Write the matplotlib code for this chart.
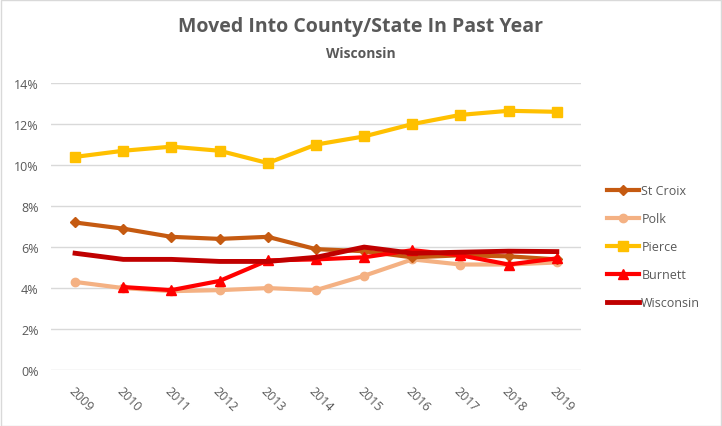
import numpy as np
import matplotlib
matplotlib.use("Agg")
from matplotlib import pyplot as plt
from matplotlib.ticker import PercentFormatter

years = ["2009", "2010", "2011", "2012", "2013", "2014", "2015", "2016", "2017", "2018", "2019"]

st_croix = [7.2, 6.9, 6.5, 6.4, 6.5, 5.9, 5.8, 5.5, 5.6, 5.55, 5.4]
polk = [4.3, 4.0, 3.85, 3.9, 4.0, 3.9, 4.6, 5.4, 5.15, 5.15, 5.25]
pierce = [10.4, 10.7, 10.9, 10.7, 10.1, 11.0, 11.4, 12.0, 12.45, 12.65, 12.6]
burnett = [np.nan, 4.05, 3.9, 4.35, 5.35, 5.4, 5.5, 5.85, 5.6, 5.15, 5.45]
wisconsin = [5.7, 5.4, 5.4, 5.3, 5.3, 5.5, 6.0, 5.7, 5.75, 5.8, 5.78]

grey = "#595959"
plt.rcParams['font.family'] = ['Open Sans', 'DejaVu Sans']

fig = plt.figure(figsize=(7.22, 4.27), dpi=100)
ax = fig.add_axes([0.0706, 0.131, 0.734, 0.672])

x = np.arange(len(years))
ax.plot(x, st_croix, c="#C55A11", lw=3, marker="D", ms=5, label="St Croix", zorder=3)
ax.plot(x, polk, c="#F4B183", lw=3, marker="o", ms=6, label="Polk", zorder=2)
ax.plot(x, pierce, c="#FFC000", lw=3, marker="s", ms=7, label="Pierce", zorder=3)
ax.plot(x, burnett, c="#FF0000", lw=3, marker="^", ms=7, label="Burnett", zorder=4)
ax.plot(x, wisconsin, c="#C00000", lw=3.5, label="Wisconsin", zorder=4)

ax.set_xlim(-0.5, len(years) - 0.5)
ax.set_ylim(0, 14)
ax.set_yticks(range(0, 15, 2))
ax.yaxis.set_major_formatter(PercentFormatter(decimals=0))
ax.set_xticks(x)
ax.set_xticklabels(years, rotation=-45, ha="left", rotation_mode="anchor")
ax.tick_params(axis="both", length=0, labelsize=9, labelcolor=grey)
ax.tick_params(axis="x", pad=10)
ax.tick_params(axis="y", pad=9)
ax.grid(axis="y", color="#D9D9D9", lw=1)
ax.set_axisbelow(True)
for s in ax.spines.values():
    s.set_visible(False)

fig.text(0.5, 0.937, "Moved Into County/State In Past Year", ha="center", va="center",
         fontsize=14, fontweight="bold", color=grey)
fig.text(0.5, 0.874, "Wisconsin", ha="center", va="center",
         fontsize=10, fontweight="bold", color=grey)

fig.legend(loc="center left", bbox_to_anchor=(0.825, 0.42), frameon=False,
           fontsize=9, labelcolor=grey, handlelength=2.6, handletextpad=0.15,
           labelspacing=1.2)

fig.patches.append(plt.Rectangle((0.001, 0.001), 0.997, 0.997, transform=fig.transFigure,
                                 fill=False, edgecolor="#D9D9D9", lw=1))

fig.savefig("out.png", dpi=100)
